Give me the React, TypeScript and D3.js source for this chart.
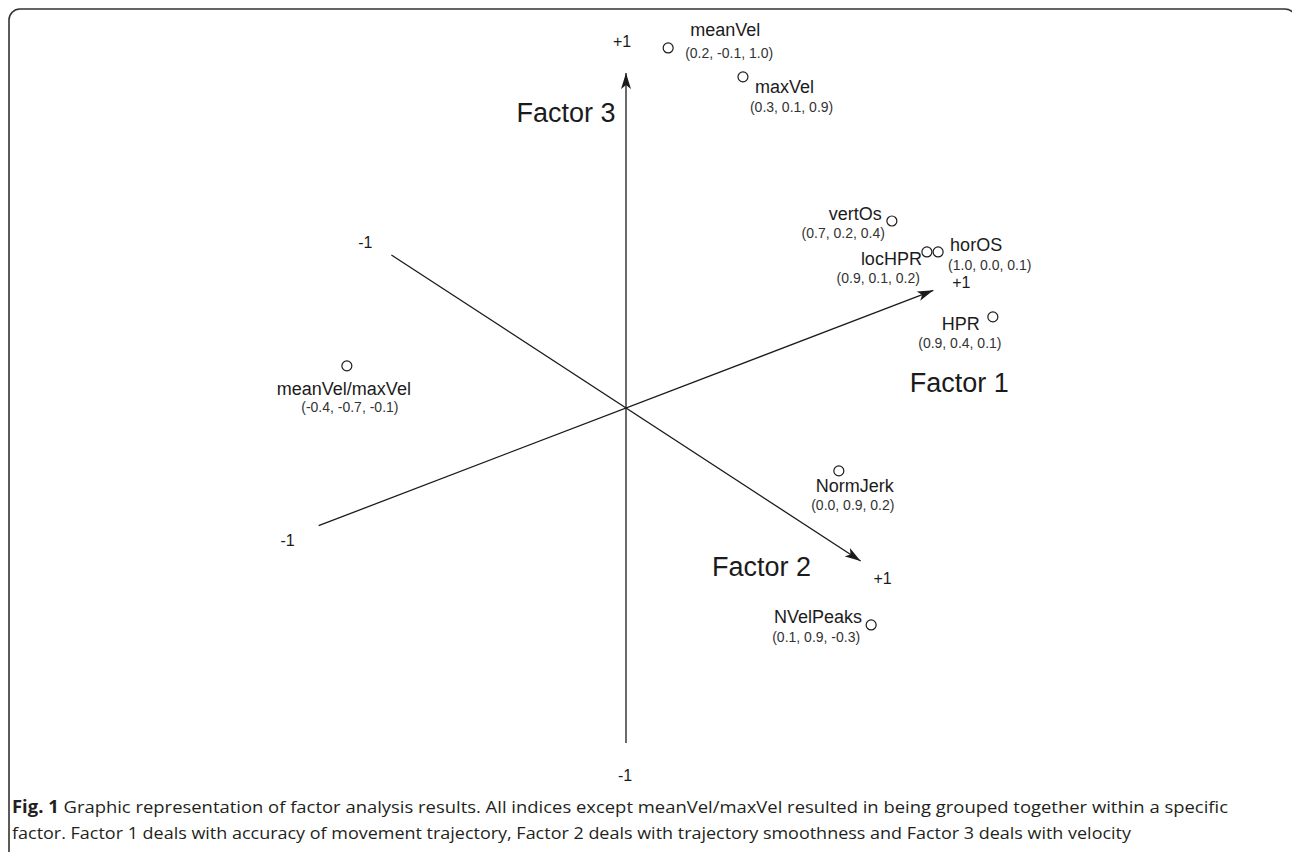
import React from "react";
import { scaleLinear } from "d3";

// Variables and their loadings on Factor 1, 2, 3
const variables = ["meanVel", "maxVel", "vertOs", "locHPR", "horOS", "HPR", "meanVel/maxVel", "NormJerk", "NVelPeaks"];
const loadings: [number, number, number][] = [
  [0.2, -0.1, 1.0],
  [0.3, 0.1, 0.9],
  [0.7, 0.2, 0.4],
  [0.9, 0.1, 0.2],
  [1.0, 0.0, 0.1],
  [0.9, 0.4, 0.1],
  [-0.4, -0.7, -0.1],
  [0.0, 0.9, 0.2],
  [0.1, 0.9, -0.3],
];
// projected position of each variable on the drawing plane (axis length = 1)
const planeX = [0.124, 0.344, 0.782, 0.885, 0.918, 1.079, -0.821, 0.626, 0.721];
const planeY = [1.059, 0.974, 0.55, 0.459, 0.459, 0.268, 0.124, -0.185, -0.638];

// factor axes: direction of the +1 end on the plane
const factors = ["Factor 1", "Factor 2", "Factor 3"];
const factorDirX = [0.904, 0.69, 0];
const factorDirY = [0.346, -0.45, 0.985];

const caption1 = " Graphic representation of factor analysis results. All indices except meanVel/maxVel resulted in being grouped together within a specific";
const caption2 = "factor. Factor 1 deals with accuracy of movement trajectory, Factor 2 deals with trajectory smoothness and Factor 3 deals with velocity";

// label placement around each circle (layout only)
type Lay = { anchor: string; nx: number; ny: number; cx: number; cy: number };
const labelLayout: Record<string, Lay> = {
  meanVel: { anchor: "start", nx: 22, ny: -12, cx: 17, cy: 10 },
  maxVel: { anchor: "start", nx: 12, ny: 16, cx: 7, cy: 35 },
  vertOs: { anchor: "end", nx: -10, ny: -1, cx: -7, cy: 17 },
  locHPR: { anchor: "end", nx: -5, ny: 13, cx: -7, cy: 31 },
  horOS: { anchor: "start", nx: 12, ny: -1, cx: 10, cy: 18 },
  HPR: { anchor: "middle", nx: -32, ny: 13, cx: -33, cy: 31 },
  "meanVel/maxVel": { anchor: "middle", nx: -3, ny: 29, cx: 3, cy: 46 },
  NormJerk: { anchor: "middle", nx: 16, ny: 21, cx: 14, cy: 39 },
  NVelPeaks: { anchor: "end", nx: -9, ny: -2, cx: -11, cy: 17 },
};

// offsets of "+1", "-1" and the factor title from the axis ends
const endLayout = [
  { plus: [28, -2], minus: [-31, 20], title: [26, 102] },
  { plus: [22, 23], minus: [-26, -7], title: [-99, 15] },
  { plus: [-4, -26], minus: [-1, 38], title: [-60, 49] },
];

const fmt = (v: number) => v.toFixed(1);

export default function App() {
  const width = 1292;
  const height = 852;
  const ox = 626;
  const oy = 408;
  const unit = 340;

  const x = scaleLinear().domain([-1, 1]).range([ox - unit, ox + unit]);
  const y = scaleLinear().domain([-1, 1]).range([oy + unit, oy - unit]);

  const font = "'Liberation Sans', Arial, sans-serif";
  const ink = "#1b1b1b";

  return (
    <svg
      width={width}
      height={height}
      style={{ position: "absolute", left: 0, top: 0, background: "#fff" }}
    >
      <defs>
        <marker
          id="arrow"
          viewBox="0 0 16 10"
          refX={16}
          refY={5}
          markerWidth={16}
          markerHeight={10}
          markerUnits="userSpaceOnUse"
          orient="auto"
        >
          <path d="M0,0 L16,5 L0,10 L4,5 Z" fill={ink} />
        </marker>
      </defs>

      {/* frame, cut off on the right and bottom */}
      <rect x={9} y={9} width={1287} height={900} rx={11} ry={11} fill="none" stroke="#333" strokeWidth={1.6} />

      {/* axes */}
      {factors.map((f, i) => {
        const x1 = x(-factorDirX[i]);
        const y1 = y(-factorDirY[i]);
        const x2 = x(factorDirX[i]);
        const y2 = y(factorDirY[i]);
        const L = endLayout[i];
        return (
          <g key={f} fontFamily={font} fill={ink}>
            <line x1={x1} y1={y1} x2={x2} y2={y2} stroke={ink} strokeWidth={1.3} markerEnd="url(#arrow)" />
            <text x={x2 + L.plus[0]} y={y2 + L.plus[1]} textAnchor="middle" fontSize={16}>+1</text>
            <text x={x1 + L.minus[0]} y={y1 + L.minus[1]} textAnchor="middle" fontSize={16}>-1</text>
            <text x={x2 + L.title[0]} y={y2 + L.title[1]} textAnchor="middle" fontSize={27}>{f}</text>
          </g>
        );
      })}

      {/* variables */}
      {variables.map((v, i) => {
        const cx = x(planeX[i]);
        const cy = y(planeY[i]);
        const L = labelLayout[v];
        return (
          <g key={v} fontFamily={font}>
            <circle cx={cx} cy={cy} r={5} fill="#fff" stroke={ink} strokeWidth={1.2} />
            <text x={cx + L.nx} y={cy + L.ny} textAnchor={L.anchor} fontSize={18} fill={ink}>{v}</text>
            <text x={cx + L.cx} y={cy + L.cy} textAnchor={L.anchor} fontSize={14} fill="#333">
              {`(${loadings[i].map(fmt).join(", ")})`}
            </text>
          </g>
        );
      })}

      {/* caption */}
      <g fontFamily="'Open Sans', 'Noto Sans', sans-serif" fontSize={17} fill="#231f20">
        <text x={12} y={813} textLength={1216} lengthAdjust="spacingAndGlyphs">
          <tspan fontWeight="bold">Fig. 1</tspan>
          <tspan>{caption1}</tspan>
        </text>
        <text x={12} y={839} textLength={1119} lengthAdjust="spacingAndGlyphs">{caption2}</text>
      </g>
    </svg>
  );
}
